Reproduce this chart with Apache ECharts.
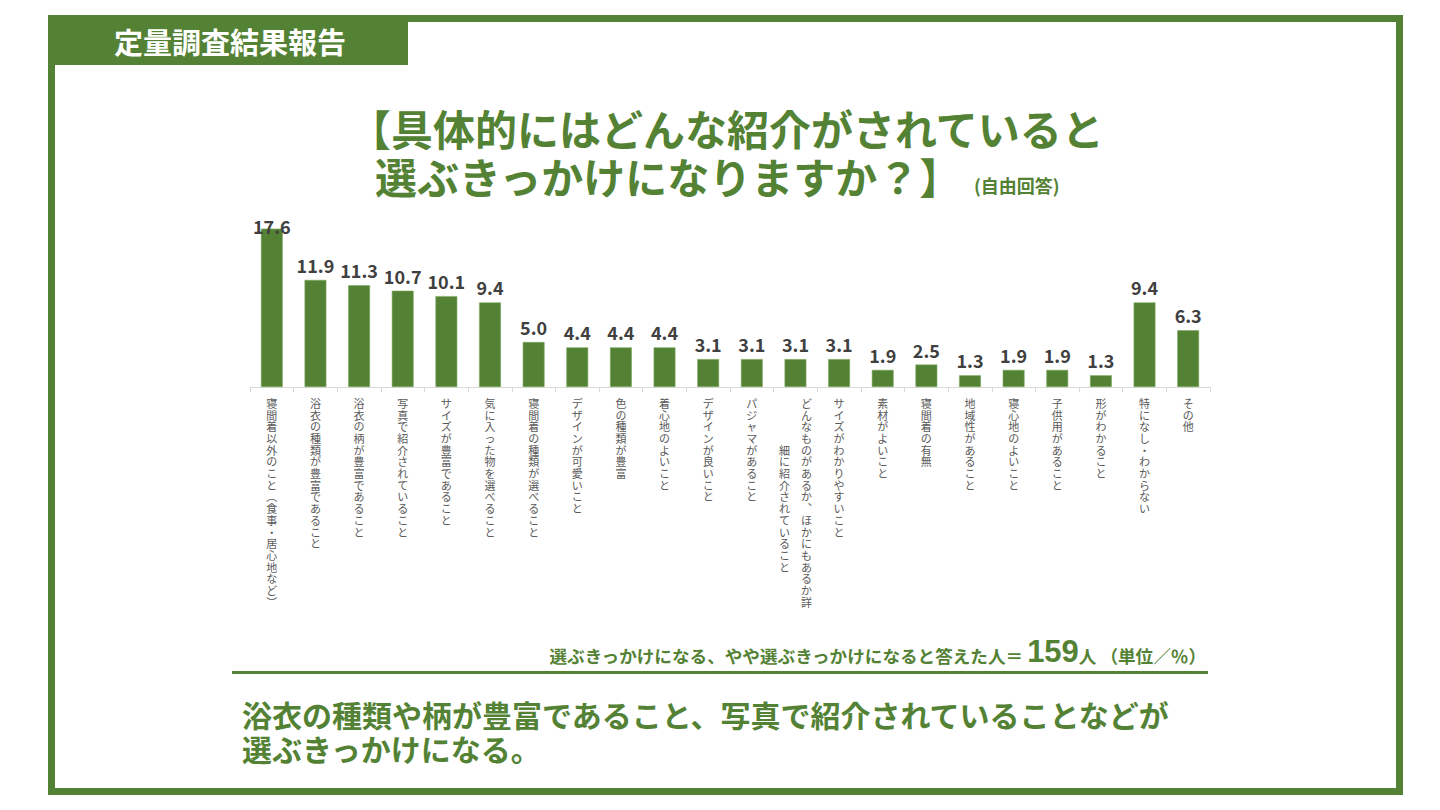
<!DOCTYPE html>
<html>
<head>
<meta charset="utf-8">
<script src="https://cdn.jsdelivr.net/npm/echarts@6/dist/echarts.min.js"></script>
<style>
html,body{margin:0;padding:0;background:#fff;}
#chart{width:1440px;height:810px;}
</style>
</head>
<body>
<div id="chart"></div>
<script>
const categories = [
  '寝間着以外のこと（食事・居心地など）',
  '浴衣の種類が豊富であること',
  '浴衣の柄が豊富であること',
  '写真で紹介されていること',
  'サイズが豊富であること',
  '気に入った物を選べること',
  '寝間着の種類が選べること',
  'デザインが可愛いこと',
  '色の種類が豊富',
  '着心地のよいこと',
  'デザインが良いこと',
  'パジャマがあること',
  'どんなものがあるか、ほかにもあるか詳細に紹介されていること',
  'サイズがわかりやすいこと',
  '素材がよいこと',
  '寝間着の有無',
  '地域性があること',
  '寝心地のよいこと',
  '子供用があること',
  '形がわかること',
  '特になし・わからない',
  'その他'
];
const values = [17.6, 11.9, 11.3, 10.7, 10.1, 9.4, 5.0, 4.4, 4.4, 4.4, 3.1, 3.1, 3.1, 3.1, 1.9, 2.5, 1.3, 1.9, 1.9, 1.3, 9.4, 6.3];

const headerText = '定量調査結果報告';
const titleLine1 = '【具体的にはどんな紹介がされていると';
const titleLine2 = '選ぶきっかけになりますか？】';
const titleNote = '(自由回答)';
const baseNotePre = '選ぶきっかけになる、やや選ぶきっかけになると答えた人＝ ';
const baseN = '159';
const baseNotePost = '人 （単位／％）';
const conclusion1 = '浴衣の種類や柄が豊富であること、写真で紹介されていることなどが';
const conclusion2 = '選ぶきっかけになる。';

const GREEN = '#548235';
const FONT = '"Noto Sans CJK JP", "Noto Sans", sans-serif';

function verticalForm(c) {
  if (c === '（') return '︵';
  if (c === '）') return '︶';
  if (c === '、') return '︑';
  return c;
}
function verticalLabel(s) {
  const chars = Array.from(s).map(verticalForm);
  const N = 18;
  if (chars.length <= N) return chars.join('\n');
  const c1 = chars.slice(0, N), c2 = chars.slice(N);
  const off = Math.ceil((N - c2.length) / 2);
  return c1.map((ch, i) => {
    const j = i - off;
    const left = (j >= 0 && j < c2.length) ? c2[j] : '　';
    return left + '　' + ch;
  }).join('\n');
}

const maxVal = Math.max(...values);
const seriesData = values.map(v => v === maxVal ? {value: v, label: {offset: [0, 12]}} : v);

const chart = echarts.init(document.getElementById('chart'), null, {renderer: 'svg'});
chart.setOption({
  backgroundColor: '#fff',
  animation: false,
  grid: {left: 250, right: 230, top: 207, bottom: 423, containLabel: false},
  xAxis: {
    type: 'category',
    data: categories,
    boundaryGap: true,
    axisLine: {show: true, lineStyle: {color: '#d9d9d9', width: 1}},
    axisTick: {show: true, length: 5, alignWithLabel: false, lineStyle: {color: '#d9d9d9'}},
    axisLabel: {
      interval: 0,
      margin: 10,
      fontSize: 11,
      lineHeight: 11.7,
      color: '#595959',
      fontFamily: FONT,
      align: 'center',
      verticalAlign: 'top',
      formatter: verticalLabel
    }
  },
  yAxis: {type: 'value', min: 0, max: 20, show: false, splitLine: {show: false}},
  series: [{
    type: 'bar',
    data: seriesData,
    barWidth: '50%',
    itemStyle: {color: GREEN, borderColor: '#7ea860', borderWidth: 0.6},
    label: {
      show: true,
      position: 'top',
      distance: 6,
      color: '#404040',
      fontSize: 18,
      fontWeight: 'bold',
      fontFamily: FONT,
      formatter: p => p.value.toFixed(1)
    }
  }],
  graphic: [
    {type: 'rect', shape: {x: 51.5, y: 18.5, width: 1348, height: 773}, style: {fill: 'none', stroke: GREEN, lineWidth: 7}},
    {type: 'rect', shape: {x: 48, y: 15, width: 360, height: 50}, style: {fill: GREEN}},
    {type: 'text', x: 230, y: 41, style: {text: headerText, fill: '#fff', font: 'bold 29px ' + FONT, textAlign: 'center', textVerticalAlign: 'middle'}},
    {type: 'text', x: 349, y: 127, style: {text: titleLine1, fill: GREEN, font: 'bold 42px ' + FONT, textAlign: 'left', textVerticalAlign: 'middle'}},
    {type: 'text', x: 375, y: 175, style: {text: titleLine2, fill: GREEN, font: 'bold 42px ' + FONT, textAlign: 'left', textVerticalAlign: 'middle'}},
    {type: 'text', x: 974, y: 185, style: {text: titleNote, fill: GREEN, font: 'bold 18px ' + FONT, textAlign: 'left', textVerticalAlign: 'middle'}},
    {type: 'text', x: 1206, y: 651, style: {
      text: '{a|' + baseNotePre + '}{n|' + baseN + '}{a|' + baseNotePost + '}',
      textAlign: 'right', textVerticalAlign: 'middle',
      rich: {
        a: {fill: GREEN, color: GREEN, fontSize: 17.6, fontWeight: 'bold', fontFamily: FONT, verticalAlign: 'bottom', padding: [0,0,2,0]},
        n: {fill: GREEN, color: GREEN, fontSize: 31, fontWeight: 'bold', fontFamily: '"Liberation Sans Narrow", "Liberation Sans", sans-serif', verticalAlign: 'bottom'}
      }
    }},
    {type: 'line', shape: {x1: 232, y1: 672.5, x2: 1208, y2: 672.5}, style: {stroke: GREEN, lineWidth: 3}},
    {type: 'text', x: 242, y: 714, style: {text: conclusion1, fill: GREEN, font: 'bold 30px ' + FONT, textAlign: 'left', textVerticalAlign: 'middle'}},
    {type: 'text', x: 242, y: 748, style: {text: conclusion2, fill: GREEN, font: 'bold 30px ' + FONT, textAlign: 'left', textVerticalAlign: 'middle'}}
  ]
});
</script>
</body>
</html>
